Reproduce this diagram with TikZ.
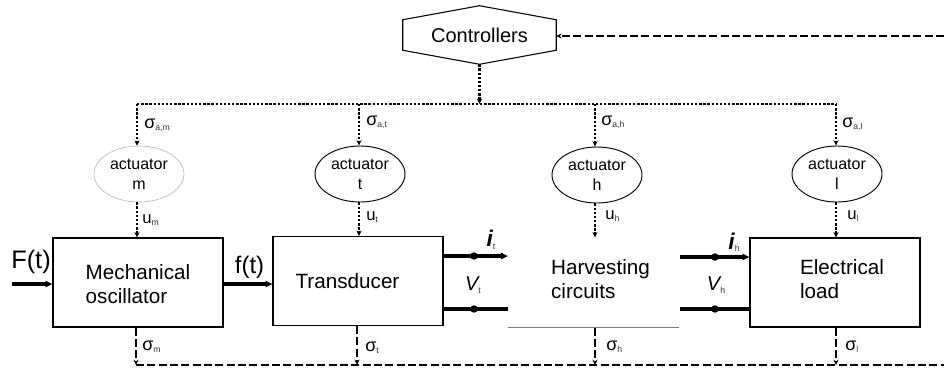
\documentclass[tikz,border=0pt]{standalone}
\usepackage{fontspec}
\setmainfont{Liberation Sans}
\usetikzlibrary{arrows.meta,calc,shapes.geometric}

\definecolor{subblue}{RGB}{40,50,90}
\definecolor{subred}{RGB}{120,30,30}

% small lowered index after a symbol
\newcommand{\lowidx}[2][black]{{\fontsize{6.5}{6.5}\selectfont\color{#1}\raisebox{-1.8pt}{#2}}}

\begin{document}
\begin{tikzpicture}[x=0.75pt,y=-0.75pt,
  blk/.style={draw, line width=0.9pt, minimum width=127.5pt, minimum height=66.75pt, inner sep=0pt},
  blktext/.style={align=left, inner sep=0pt, font=\fontsize{15.5}{18}\selectfont},
  act/.style={ellipse, draw, line width=0.7pt, minimum width=67.5pt, minimum height=42pt,
              inner sep=0pt, align=center, font=\fontsize{12}{15}\selectfont},
  cmdline/.style={line width=1.9pt, dash pattern=on 1.8pt off 1.3pt},
  fbline/.style={line width=1.9pt, dash pattern=on 6pt off 2.5pt},
  tip/.style={-{Stealth[length=4pt,width=3.8pt]}},
  power/.style={line width=2.3pt},
  ptip/.style={-{Triangle[length=5pt,width=4.5pt]}},
  dot/.style={circle, fill, inner sep=0pt, minimum size=5.6pt},
  sig/.style={anchor=west, inner sep=0pt, font=\fontsize{13.5}{13.5}\selectfont},
  ulbl/.style={anchor=west, inner sep=0pt, font=\fontsize{12.5}{12.5}\selectfont},
  lbl/.style={inner sep=0pt}
]
\useasboundingbox (0,0) rectangle (944,369);

% ---- controller hexagon ----
\node[minimum width=114.75pt, minimum height=22.5pt, inner sep=0pt,
      font=\fontsize{15}{15}\selectfont] (ctrl) at (479.5,35) {Controllers};
\coordinate (ctrlT) at ($(ctrl.north)+(0,-14)$);
\coordinate (ctrlB) at ($(ctrl.south)+(0,14)$);
\draw[line width=0.8pt] (ctrl.north west) -- (ctrlT) -- (ctrl.north east)
  -- (ctrl.south east) -- (ctrlB) -- (ctrl.south west) -- cycle;

% ---- command bus ----
\coordinate (busM) at (137,104);
\coordinate (busT) at (359,104);
\coordinate (busC) at (ctrlB |- busM);
\coordinate (busH) at (595,104);
\coordinate (busL) at (836,104);
\draw[cmdline] (busM) -- (busL);
\draw[cmdline,tip] (ctrlB) -- (busC);

% ---- actuators ----
\node[act, draw=gray!55, line width=0.5pt] (am) at (139,174) {actuator\\m};
\node[act] (at) at (360,174) {actuator\\t};
\node[act] (ah) at (597,175) {actuator\\h};
\node[act] (al) at (837,174) {actuator\\l};

\draw[cmdline,tip] (busM) -- (busM |- am.north);
\draw[cmdline,tip] (busT) -- (busT |- at.north);
\draw[cmdline,tip] (busH) -- (busH |- ah.north);
\draw[cmdline,tip] (busL) -- (busL |- al.north);

\node[sig] (sam) at (144,125) {σ\lowidx[subblue]{a,m}};
\node[sig] (sat) at (366,122) {σ\lowidx[subblue]{a,t}};
\node[sig] (sah) at (601,122) {σ\lowidx[subblue]{a,h}};
\node[sig] (sal) at (842,124) {σ\lowidx[subblue]{a,l}};

% ---- blocks ----
\node[blk] (mech) at (138,282.5) {};
\node[blktext] (mechT) at (138,284) {Mechanical\\oscillator};
\node[blk] (trans) at (358,281) {};
\node[blktext] (transT) at (347.5,281) {Transducer};
\node[blk, draw=none] (harv) at (593.5,282.5) {};
\draw[gray, line width=0.6pt] (harv.south west) -- (harv.south east);
\node[blktext] (harvT) at (600.5,279) {Harvesting\\circuits};
\node[blk] (load) at (835,282.5) {};
\node[blktext] (loadT) at (842,279) {Electrical\\load};

% ---- actuator outputs ----
\draw[cmdline,tip] (busM |- am.south) -- (busM |- mech.north);
\draw[cmdline,tip] (busT |- at.south) -- (busT |- trans.north);
\draw[cmdline,tip] (busH |- ah.south) -- (busH |- harv.north);
\draw[cmdline,tip] (busL |- al.south) -- (busL |- load.north);

\node[ulbl] (um) at (142,220) {u\lowidx[subblue]{m}};
\node[ulbl] (ut) at (366,217) {u\lowidx[subblue]{t}};
\node[ulbl] (uh) at (605,216) {u\lowidx[subblue]{h}};
\node[ulbl] (ul) at (847,216) {u\lowidx[subblue]{l}};

% ---- mechanical inputs ----
\coordinate (Fin) at (12,284);
\draw[power,ptip] (Fin) -- (mech.west |- Fin);
\node[lbl, font=\fontsize{19}{19}\selectfont] (Flbl) at (31,262) {F(t)};
\draw[power,ptip] (mech.east |- Fin) -- (trans.west |- Fin);
\node[lbl, font=\fontsize{18}{18}\selectfont] (flbl) at (249.5,267) {f(t)};

% ---- electrical ports ----
\coordinate (tUp) at (trans.east |- 0,256);
\coordinate (tLo) at (trans.east |- 0,309);
\draw[power,ptip] (tUp) -- (harv.west |- tUp);
\draw[power] (tLo) -- (harv.west |- tLo);
\node[dot] (dtu) at (474,256) {};
\node[dot] (dtl) at (474,309) {};
\node[lbl] (it) at (491,240) {{\fontsize{17}{17}\selectfont\bfseries\itshape i}\lowidx[subred]{t}};
\node[lbl] (vt) at (473,285) {{\fontsize{15}{15}\selectfont\itshape V}\lowidx[subblue]{t}};

\coordinate (hUp) at (680,257);
\coordinate (hLo) at (680,309);
\draw[power,ptip] (hUp) -- (load.west |- hUp);
\draw[power] (hLo) -- (load.west |- hLo);
\node[dot] (dhu) at (715,257) {};
\node[dot] (dhl) at (715,309) {};
\node[lbl] (ih) at (734,242) {{\fontsize{17}{17}\selectfont\bfseries\itshape i}\lowidx[subblue]{h}};
\node[lbl] (vh) at (716,285) {{\fontsize{15}{15}\selectfont\itshape V}\lowidx[subblue]{h}};

% ---- status feedback bus ----
\coordinate (fbM) at (136,365);
\coordinate (fbT) at (357,365);
\coordinate (fbH) at (595,365);
\coordinate (fbL) at (836,365);
\coordinate (fbE) at (944,365);
\draw[fbline] (fbM) -- (fbE);
\draw[fbline,tip] (mech.south -| fbM) -- (fbM);
\draw[fbline,tip] (trans.south -| fbT) -- (fbT);
\draw[fbline,tip] (harv.south -| fbH) -- (fbH);
\draw[fbline,tip] (load.south -| fbL) -- (fbL);

\node[sig] (sm) at (142,347) {σ\lowidx[subblue]{m}};
\node[sig] (st) at (365,348) {σ\lowidx[subblue]{t}};
\node[sig] (sh) at (606,347) {σ\lowidx[subblue]{h}};
\node[sig] (sl) at (845,347) {σ\lowidx[subblue]{l}};

% ---- return to controllers ----
\coordinate (ctrlIn) at (944,36);
\draw[fbline,tip] (ctrlIn) -- (ctrl.east |- ctrlIn);
\end{tikzpicture}
\end{document}
